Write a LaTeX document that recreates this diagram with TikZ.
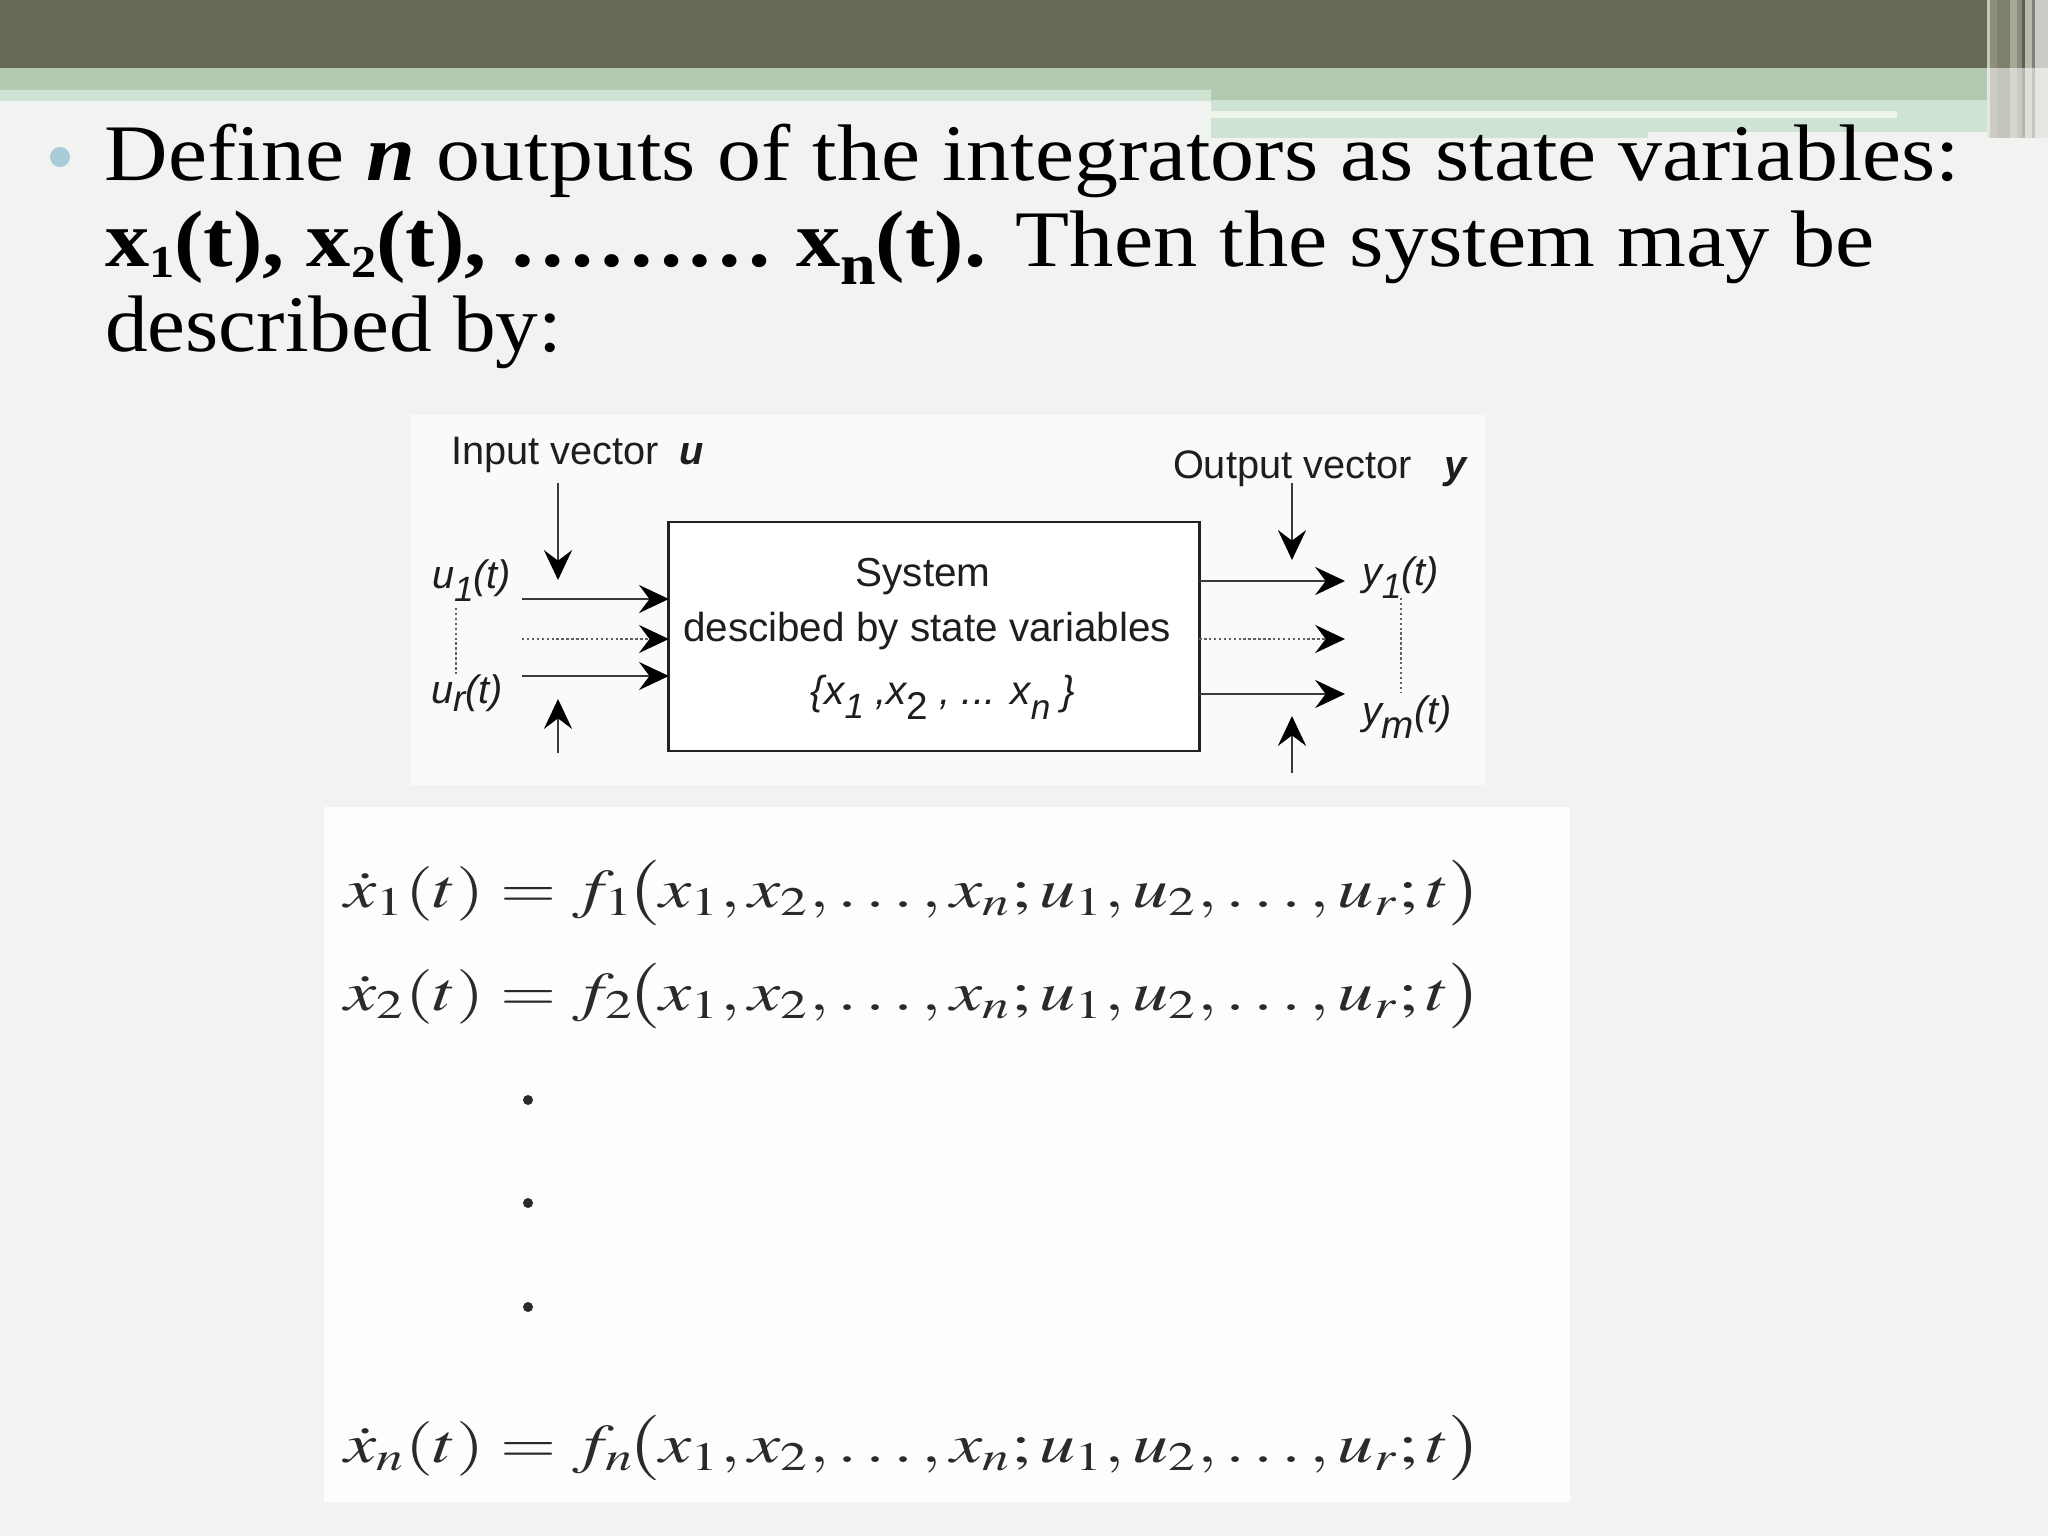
\documentclass[tikz,border=0pt]{standalone}
\usepackage{mathptmx}
\usepackage{fontspec}
\setmainfont{Liberation Serif}
\newfontfamily\arial{Liberation Sans}
\usetikzlibrary{arrows.meta}
\definecolor{bgc}{HTML}{F0F3EF}
\definecolor{darkband}{HTML}{676A55}
\definecolor{greenband}{HTML}{B2CAB2}
\definecolor{paleband}{HTML}{CFE3D4}
\definecolor{whitestrip}{HTML}{EEF5E6}
\definecolor{bulletc}{HTML}{A8CBD8}
\definecolor{panelc}{HTML}{FAFAFA}
\definecolor{eqpanel}{HTML}{FDFDFD}
\definecolor{linec}{HTML}{3A3A3A}
\definecolor{boxc}{HTML}{222222}
\definecolor{diagtext}{HTML}{1E1E1E}
\definecolor{eqc}{HTML}{2A2A2A}
\newcommand\tsubs[2]{\raisebox{#1}{\fontsize{13}{13}\selectfont #2}}
\begin{document}
\begin{tikzpicture}[x=0.01cm,y=-0.01cm,
  every node/.style={inner sep=0pt,outer sep=0pt},
  title/.style={anchor=base west,font=\fontsize{22.8}{26}\selectfont,text=black},
  lab/.style={anchor=base west,font=\arial\fontsize{11.3}{13}\selectfont,text=diagtext},
  labi/.style={anchor=base west,font=\arial\itshape\fontsize{11.3}{13}\selectfont,text=diagtext},
  boxtext/.style={anchor=base,font=\arial\fontsize{11.5}{13}\selectfont,text=diagtext},
  eqline/.style={anchor=base west,text=eqc,font=\fontsize{15.5}{18}\selectfont},
  conn/.style={line width=0.65pt,draw=linec},
  arr/.style={conn,-{Stealth[length=8.5pt,width=8pt,inset=3pt,color=black]}},
  dotl/.style={line width=0.45pt,draw=linec!80,dash pattern=on 0.7pt off 0.7pt},
  vdot/.style={circle,fill=eqc,minimum size=0.1cm}
]
\useasboundingbox (0,0) rectangle (2048,1536);
% background and header decoration
\fill[bgc] (0,0) rectangle (2048,1536);
\fill[darkband] (0,0) rectangle (1987,68);
\fill[greenband] (0,68) rectangle (1987,90);
\fill[greenband] (1211,90) rectangle (1987,100);
\fill[paleband] (0,90) rectangle (1211,101);
\fill[paleband] (1211,100) rectangle (1987,132);
\fill[paleband] (1211,132) rectangle (1648,138);
\fill[whitestrip] (1211,111) rectangle (1897,118);
\definecolor{s1}{HTML}{C6C8BC}\fill[s1] (1987,0) rectangle (1990,138);
\definecolor{s2}{HTML}{8E907F}\fill[s2] (1990,0) rectangle (1997,138);
\definecolor{s3}{HTML}{7D806D}\fill[s3] (1997,0) rectangle (2010,138);
\definecolor{s4}{HTML}{A6A898}\fill[s4] (2010,0) rectangle (2017,138);
\definecolor{s5}{HTML}{8A8C7C}\fill[s5] (2017,0) rectangle (2022,138);
\definecolor{s6}{HTML}{5F6150}\fill[s6] (2022,0) rectangle (2025,138);
\definecolor{s7}{HTML}{B9BBAE}\fill[s7] (2025,0) rectangle (2032,138);
\definecolor{s8}{HTML}{7F8172}\fill[s8] (2032,0) rectangle (2035,138);
\definecolor{s9}{HTML}{CACAC6}\fill[s9] (2035,0) rectangle (2048,138);
\fill[white,opacity=0.55] (1987,68) rectangle (2048,138);
% bullet and title text
\node[circle,fill=bulletc,minimum size=0.2cm] (bullet) at (60,157) {};
\node[title] (t1) at (105,180) {\resizebox{18.54cm}{\height}{Define \textbf{\textit{n}} outputs of the integrators as state variables:}};
\node[title] (t2) at (105,266) {\resizebox{17.69cm}{\height}{\textbf{x\tsubs{-3.2pt}{1}(t), x\tsubs{-3.2pt}{2}(t), ……… x\raisebox{-5.4pt}{\fontsize{16.5}{16.5}\selectfont n}(t).} Then the system may be}};
\node[title] (t3) at (105,351) {\resizebox{4.57cm}{\height}{described by:}};
% diagram panel
\fill[panelc] (410,415) rectangle (1485,785);
\node[draw=boxc,line width=0.8pt,fill=white,minimum width=5.3cm,minimum height=2.29cm] (box) at (934,636.5) {};
\node[boxtext] (sys) at (923,586) {System};
\node[boxtext] (desc) at (927,641) {descibed by state variables};
\node[boxtext,font=\arial\itshape\fontsize{11.5}{13}\selectfont] (xset) at (943,704) {\{x\raisebox{-4pt}{\fontsize{10}{10}\selectfont 1} ,x\raisebox{-4.5pt}{\fontsize{11}{11}\selectfont\upshape 2} , ... x\raisebox{-4.5pt}{\fontsize{10}{10}\selectfont n} \}};
\node[lab] (inlab) at (451,464) {Input vector};
\node[lab,font=\arial\bfseries\itshape\fontsize{11.3}{13}\selectfont] (inu) at (679,464) {u};
\node[lab] (outlab) at (1173,478) {Output vector};
\node[lab,font=\arial\bfseries\itshape\fontsize{11.3}{13}\selectfont] (outy) at (1444,478) {y};
\node[labi] (u1) at (432,588) {u\raisebox{-3.8pt}{\fontsize{10}{10}\selectfont 1}(t)};
\node[labi] (ur) at (431,703) {u\raisebox{-2.4pt}{\fontsize{10.5}{10}\selectfont r}(t)};
\node[labi] (y1) at (1362,585) {y\raisebox{-3.8pt}{\fontsize{10}{10}\selectfont 1}(t)};
\node[labi] (ym) at (1362,724) {y\raisebox{-4.2pt}{\fontsize{11}{11}\selectfont m}(t)};
% connector end points
\coordinate (i1) at (522,599);
\coordinate (i2) at (522,639);
\coordinate (i3) at (522,676);
\coordinate (o1) at (1345,581);
\coordinate (o2) at (1345,639);
\coordinate (o3) at (1345,694);
\coordinate (ida) at (558,483);
\coordinate (idb) at (558,580);
\coordinate (iua) at (558,753);
\coordinate (iub) at (558,699);
\coordinate (oda) at (1292,483);
\coordinate (odb) at (1292,560);
\coordinate (oua) at (1292,773);
\coordinate (oub) at (1292,716);
\coordinate (ldt) at (456,608);
\coordinate (ldb) at (456,675);
\coordinate (rdt) at (1401,598);
\coordinate (rdb) at (1401,693);
% connectors
\draw[arr] (i1) -- (i1 -| box.west);
\draw[arr,dotl] (i2) -- (i2 -| box.west);
\draw[arr] (i3) -- (i3 -| box.west);
\draw[arr] (o1 -| box.east) -- (o1);
\draw[arr,dotl] (o2 -| box.east) -- (o2);
\draw[arr] (o3 -| box.east) -- (o3);
\draw[arr] (ida) -- (idb);
\draw[arr] (iua) -- (iub);
\draw[arr] (oda) -- (odb);
\draw[arr] (oua) -- (oub);
\draw[dotl] (ldt) -- (ldb);
\draw[dotl] (rdt) -- (rdb);
% equations panel
\fill[eqpanel] (324,807) rectangle (1570,1502);
\node[eqline] (eq1) at (344,907) {\resizebox{11.38cm}{\height}{$\dot{x}_1(t) = f_1\!\bigl(x_1, x_2, \ldots, x_n; u_1, u_2, \ldots, u_r; t\bigr)$}};
\node[eqline] (eq2) at (344,1010) {\resizebox{11.38cm}{\height}{$\dot{x}_2(t) = f_2\!\bigl(x_1, x_2, \ldots, x_n; u_1, u_2, \ldots, u_r; t\bigr)$}};
\node[vdot] (d1) at (528,1100) {};
\node[vdot] (d2) at (528,1203) {};
\node[vdot] (d3) at (528,1307) {};
\node[eqline] (eqn) at (344,1462) {\resizebox{11.38cm}{\height}{$\dot{x}_n(t) = f_n\!\bigl(x_1, x_2, \ldots, x_n; u_1, u_2, \ldots, u_r; t\bigr)$}};
\end{tikzpicture}
\end{document}
